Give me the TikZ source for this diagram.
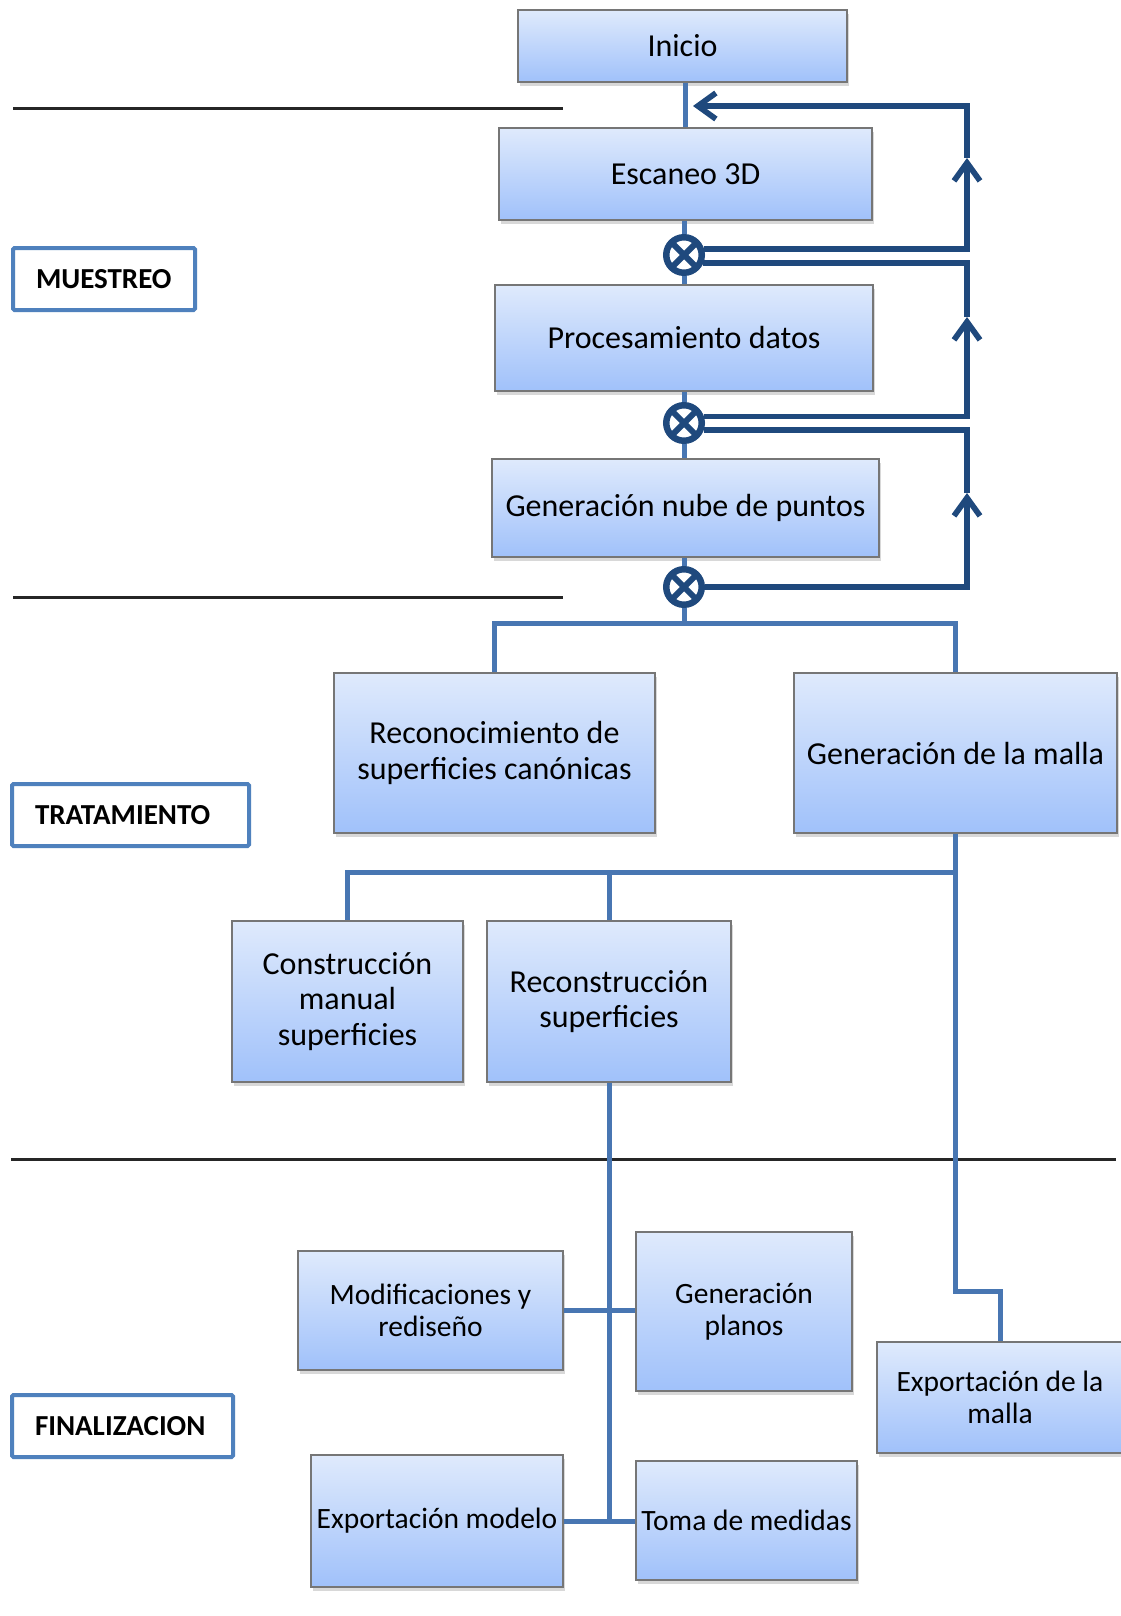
\documentclass[tikz,border=0pt]{standalone}
\usepackage{fontspec}
\setmainfont{Carlito}
\usetikzlibrary{arrows.meta,shadows,calc}
\definecolor{boxtop}{RGB}{223,234,252}
\definecolor{boxbot}{RGB}{160,193,250}
\definecolor{boxline}{RGB}{118,118,118}
\definecolor{treec}{RGB}{72,118,178}
\definecolor{navyc}{RGB}{31,73,125}
\definecolor{labline}{RGB}{79,129,189}
\definecolor{rulec}{RGB}{38,38,38}
\tikzset{
  proc/.style={draw=boxline, line width=1.2pt, top color=boxtop, bottom color=boxbot,
    drop shadow={shadow xshift=2pt, shadow yshift=-4pt, opacity=0.3},
    align=center, inner sep=0pt, text=black},
  bigtxt/.style={font=\fontsize{32}{35.5}\selectfont},
  smalltxt/.style={font=\fontsize{29.5}{32}\selectfont},
  labbox/.style={draw=labline, line width=4pt, rounded corners=1.5pt, fill=white,
    font=\bfseries\fontsize{29}{34}\selectfont, align=left, inner xsep=23pt, inner ysep=0pt,
    minimum height=62pt, anchor=north west},
  xnode/.style={circle, draw=navyc, line width=6.5pt, minimum size=35.5pt, inner sep=0pt,
    path picture={
      \draw[navyc, line width=6pt] ($(path picture bounding box.center)+(45:19pt)$) -- ($(path picture bounding box.center)+(225:19pt)$);
      \draw[navyc, line width=6pt] ($(path picture bounding box.center)+(135:19pt)$) -- ($(path picture bounding box.center)+(315:19pt)$);
    }},
  tl/.style={draw=treec, line width=5pt},
  fb/.style={draw=navyc, line width=5.7pt},
  arr/.style={-{Straight Barb[length=18pt, width=26pt]}},
  rulel/.style={draw=rulec, line width=3pt},
}
\begin{document}
\begin{tikzpicture}[x=1pt, y=-1pt]
\useasboundingbox (0,0) rectangle (1120,1616);
\fill[white] (0,0) rectangle (1120,1616);

% separator rules
\draw[rulel] (13,109) -- (563,109);
\draw[rulel] (13,597) -- (563,597);
\draw[rulel] (11,1159) -- (1116,1159);

% phase labels
\node[labbox, text width=136pt] (muestreo) at (11,246) {MUESTREO};
\node[labbox, text width=191pt] (tratamiento) at (10,782) {TRATAMIENTO};
\node[labbox, text width=175pt] (finalizacion) at (10,1393) {FINALIZACION};

% process boxes
\node[proc, bigtxt, minimum width=329pt, minimum height=72pt] (inicio) at (682.5,46) {Inicio};
\node[proc, bigtxt, minimum width=373pt, minimum height=92pt] (escaneo) at (685.5,174) {Escaneo 3D};
\node[proc, bigtxt, minimum width=378pt, minimum height=106pt] (procdat) at (684,338) {Procesamiento datos};
\node[proc, bigtxt, minimum width=387pt, minimum height=98pt] (nube) at (685.5,508) {Generación nube de puntos};
\node[proc, bigtxt, minimum width=321pt, minimum height=160pt] (recon) at (494.5,753) {Reconocimiento de\\superficies canónicas};
\node[proc, bigtxt, minimum width=323pt, minimum height=160pt] (malla) at (955.5,753) {Generación de la malla};
\node[proc, bigtxt, minimum width=231pt, minimum height=161pt] (constr) at (347.5,1001.5) {Construcción\\manual\\superficies};
\node[proc, bigtxt, minimum width=244pt, minimum height=161pt] (reconstr) at (609,1001.5) {Reconstrucción\\superficies};
\node[proc, smalltxt, minimum width=265pt, minimum height=119pt] (modif) at (430.5,1310.5) {Modificaciones y\\rediseño};
\node[proc, smalltxt, minimum width=216pt, minimum height=159pt] (planos) at (744,1311.5) {Generación\\planos};
\node[proc, smalltxt, minimum width=246pt, minimum height=111pt] (expmalla) at (1000,1397.5) {Exportación de la\\malla};
\node[proc, smalltxt, minimum width=252pt, minimum height=132pt] (expmod) at (437,1521) {Exportación modelo};
\node[proc, smalltxt, minimum width=221pt, minimum height=119pt] (toma) at (746.5,1520.5) {Toma de medidas};

% X junctions
\node[xnode] (c1) at (684,255) {};
\node[xnode] (c2) at (684,423) {};
\node[xnode] (c3) at (684,587) {};

% helper coordinates
\coordinate (tip) at (693,106);
\coordinate (a1) at (967,158);
\coordinate (a2) at (967,317);
\coordinate (a3) at (967,493);
\coordinate (j1) at (684,623);
\coordinate (j2) at (955.5,872);
\coordinate (j3) at (955.5,1291);

% main vertical chain
\draw[tl] (escaneo.north |- inicio.south) -- (escaneo.north);
\draw[tl] (c1 |- escaneo.south) -- (c1);
\draw[tl] (c1) -- (c1 |- procdat.north);
\draw[tl] (c2 |- procdat.south) -- (c2);
\draw[tl] (c2) -- (c2 |- nube.north);
\draw[tl] (c3 |- nube.south) -- (c3);
\draw[tl] (c3) -- (j1);

% feedback loops
\draw[fb, arr] (c1.16) -| (a1);
\draw[fb, arr] (a1) |- (tip);
\draw[fb, arr] (c2.18) -| (a2);
\draw[fb] (a2) |- (c1.-22);
\draw[fb, arr] (c3.east) -| (a3);
\draw[fb] (a3) |- (c2.-20);

% tree
\draw[tl] (recon.north) |- (j1) -| (malla.north);
\draw[tl] (malla.south) -- (j2);
\draw[tl] (j2) -| (constr.north);
\draw[tl] (reconstr.north) -- (reconstr.north |- j2);
\draw[tl] (j2) -- (j3) -| (expmalla.north);
\draw[tl] (reconstr.south) -- (reconstr.south |- expmod.east);
\draw[tl] (modif.east) -- (modif.east -| planos.west);
\draw[tl] (expmod.east) -- (expmod.east -| toma.west);
\end{tikzpicture}
\end{document}
